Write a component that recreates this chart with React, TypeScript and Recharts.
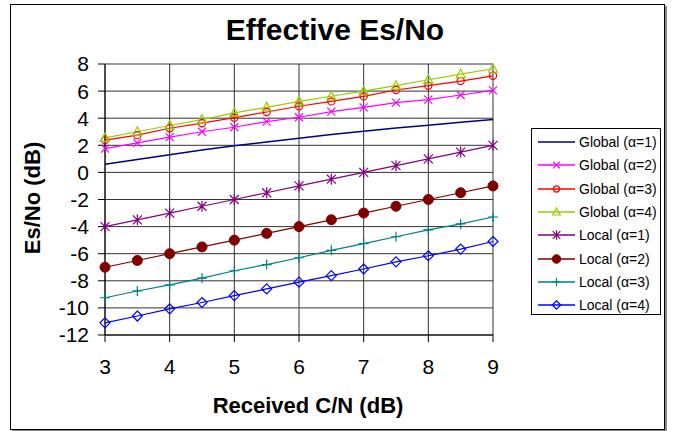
import { CartesianGrid, Line, LineChart, XAxis, YAxis } from "recharts";

const cn = [3, 3.5, 4, 4.5, 5, 5.5, 6, 6.5, 7, 7.5, 8, 8.5, 9];
const xTicks = [3, 4, 5, 6, 7, 8, 9];
const yTicks = [-12, -10, -8, -6, -4, -2, 0, 2, 4, 6, 8];

const global1 = [0.6, 0.95, 1.3, 1.65, 1.96, 2.25, 2.52, 2.8, 3.04, 3.27, 3.48, 3.7, 3.9];
const global2 = [1.76, 2.18, 2.6, 3.0, 3.33, 3.75, 4.07, 4.49, 4.8, 5.15, 5.37, 5.71, 6.05];
const global3 = [2.38, 2.75, 3.26, 3.63, 4.04, 4.46, 4.88, 5.24, 5.61, 6.08, 6.4, 6.74, 7.13];
const global4 = [2.55, 3.0, 3.46, 3.9, 4.39, 4.8, 5.24, 5.62, 6.0, 6.4, 6.84, 7.25, 7.65];
const local1 = [-4, -3.5, -3, -2.5, -2, -1.5, -1, -0.5, 0, 0.5, 1, 1.5, 2];
const local2 = [-7, -6.5, -6, -5.5, -5, -4.5, -4, -3.5, -3, -2.5, -2, -1.5, -1];
const local3 = [-9.25, -8.75, -8.3, -7.8, -7.26, -6.8, -6.3, -5.75, -5.25, -4.75, -4.24, -3.8, -3.29];
const local4 = [-11.1, -10.6, -10.07, -9.6, -9.09, -8.6, -8.1, -7.62, -7.13, -6.6, -6.15, -5.66, -5.1];

type Mk = "none" | "x" | "circle" | "tri" | "star" | "dot" | "plus" | "diamond";

const series: { key: string; name: string; color: string; mk: Mk; values: number[] }[] = [
  { key: "g1", name: "Global (α=1)", color: "#000080", mk: "none", values: global1 },
  { key: "g2", name: "Global (α=2)", color: "#FF00FF", mk: "x", values: global2 },
  { key: "g3", name: "Global (α=3)", color: "#FF0000", mk: "circle", values: global3 },
  { key: "g4", name: "Global (α=4)", color: "#99CC00", mk: "tri", values: global4 },
  { key: "l1", name: "Local (α=1)", color: "#800080", mk: "star", values: local1 },
  { key: "l2", name: "Local (α=2)", color: "#800000", mk: "dot", values: local2 },
  { key: "l3", name: "Local (α=3)", color: "#008080", mk: "plus", values: local3 },
  { key: "l4", name: "Local (α=4)", color: "#0000FF", mk: "diamond", values: local4 },
];

const data = cn.map((x, i) => {
  const row: Record<string, number> = { x };
  series.forEach((s) => (row[s.key] = s.values[i]));
  return row;
});

const FONT = "'Liberation Sans', Arial, sans-serif";

function Marker({ mk, color, cx, cy, s = 1 }: { mk: Mk; color: string; cx: number; cy: number; s?: number }) {
  const sw = 1.2;
  const a = 4 * s;
  const b = 5 * s;
  switch (mk) {
    case "x":
      return (
        <path d={`M${cx - a},${cy - a}L${cx + a},${cy + a}M${cx - a},${cy + a}L${cx + a},${cy - a}`} stroke={color} strokeWidth={sw} fill="none" />
      );
    case "circle":
      return <circle cx={cx} cy={cy} r={3.6 * s} stroke={color} strokeWidth={sw} fill="none" />;
    case "tri":
      return <path d={`M${cx},${cy - b}L${cx + 4.5 * s},${cy + 3.5 * s}L${cx - 4.5 * s},${cy + 3.5 * s}Z`} stroke={color} strokeWidth={sw} fill="none" />;
    case "star":
      return (
        <path
          d={`M${cx - 4.5 * s},${cy - 4.5 * s}L${cx + 4.5 * s},${cy + 4.5 * s}M${cx - 4.5 * s},${cy + 4.5 * s}L${cx + 4.5 * s},${cy - 4.5 * s}M${cx},${cy - 5.5 * s}L${cx},${cy + 5.5 * s}`}
          stroke={color}
          strokeWidth={sw}
          fill="none"
        />
      );
    case "dot":
      return <circle cx={cx} cy={cy} r={5 * s} fill={color} stroke={color} />;
    case "plus":
      return <path d={`M${cx - b},${cy}L${cx + b},${cy}M${cx},${cy - b}L${cx},${cy + b}`} stroke={color} strokeWidth={sw} fill="none" />;
    case "diamond":
      return <path d={`M${cx},${cy - b}L${cx + b},${cy}L${cx},${cy + b}L${cx - b},${cy}Z`} stroke={color} strokeWidth={sw} fill="none" />;
    default:
      return <g />;
  }
}

function LegendBox() {
  return (
    <div
      style={{
        position: "absolute",
        left: 531,
        top: 128,
        width: 128,
        height: 185,
        border: "1px solid #000",
        background: "#fff",
        fontFamily: FONT,
        fontSize: 14,
      }}
    >
      {series.map((s, i) => (
        <div key={s.key} style={{ position: "absolute", left: 5, top: 3 + i * 23.3, height: 20, display: "flex", alignItems: "center" }}>
          <svg width={40} height={20} style={{ display: "block" }}>
            <line x1={1} y1={10} x2={38} y2={10} stroke={s.color} strokeWidth={1.3} />
            <Marker mk={s.mk} color={s.color} cx={19.5} cy={10} s={0.85} />
          </svg>
          <span style={{ marginLeft: 2, whiteSpace: "nowrap" }}>{s.name}</span>
        </div>
      ))}
    </div>
  );
}

export default function App() {
  return (
    <div style={{ position: "absolute", left: 0, top: 0, width: 683, height: 431, background: "#fff", fontFamily: FONT }}>
      <div
        style={{
          position: "absolute",
          left: 10,
          top: 4,
          width: 653,
          height: 424,
          border: "1px solid #000",
          boxShadow: "2px 2px 0 #888",
        }}
      />
      <div
        style={{
          position: "absolute",
          left: 0,
          width: 670,
          top: 15,
          lineHeight: "30px",
          textAlign: "center",
          fontSize: 30,
          fontWeight: "bold",
        }}
      >
        Effective Es/No
      </div>
      <div style={{ position: "absolute", left: 0, top: 0 }}>
        <LineChart width={683} height={431} data={data} margin={{ top: 64, right: 190, bottom: 56, left: 0 }}>
          <CartesianGrid stroke="#333" strokeWidth={1} vertical horizontal />
          <XAxis
            dataKey="x"
            type="number"
            domain={[3, 9]}
            ticks={xTicks}
            interval={0}
            tickSize={7}
            tickMargin={17}
            axisLine={{ stroke: "#000" }}
            tickLine={{ stroke: "#000" }}
            tick={{ fill: "#000", fontSize: 21, fontFamily: FONT }}
            height={40}
            label={() => (
              <text x={308} y={413} textAnchor="middle" fontSize={22} fontWeight="bold" fontFamily={FONT} fill="#000">
                Received C/N (dB)
              </text>
            )}
          />
          <YAxis
            type="number"
            domain={[-12, 8]}
            ticks={yTicks}
            interval={0}
            width={105}
            tickSize={7}
            tickMargin={9}
            axisLine={{ stroke: "#000" }}
            tickLine={{ stroke: "#000" }}
            tick={{ fill: "#000", fontSize: 21, fontFamily: FONT }}
            label={() => (
              <text
                x={40}
                y={198}
                transform="rotate(-90 40 198)"
                textAnchor="middle"
                fontSize={22}
                fontWeight="bold"
                fontFamily={FONT}
                fill="#000"
              >
                Es/No (dB)
              </text>
            )}
          />
          {series.map((s) => (
            <Line
              key={s.key}
              dataKey={s.key}
              name={s.name}
              type="linear"
              stroke={s.color}
              strokeWidth={s.mk === "none" ? 1.5 : 1.2}
              isAnimationActive={false}
              dot={(p: any) => <Marker key={`${s.key}-${p.index}`} mk={s.mk} color={s.color} cx={p.cx} cy={p.cy} />}
              activeDot={false}
            />
          ))}
        </LineChart>
      </div>
      <LegendBox />
    </div>
  );
}
